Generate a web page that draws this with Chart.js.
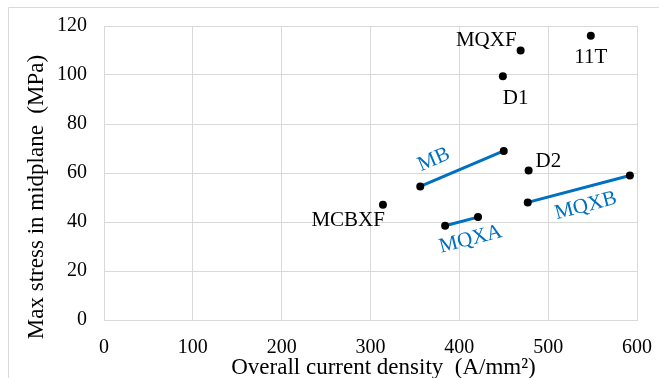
<!DOCTYPE html>
<html>
<head>
<meta charset="utf-8">
<script src="https://cdn.jsdelivr.net/npm/chart.js@4"></script>
<style>
    body { margin: 0; background: #ffffff; }
    canvas { display: block; }
</style>
</head>
<body>
<canvas id="stress_graph" width="659" height="378"></canvas>
<script>
// single magnets (black dots)
const single_names = ["MQXF", "11T", "D1", "D2", "MCBXF"];
const single_x     = [469, 548, 449, 478, 314];
const single_y     = [110, 116, 99.5, 61, 47];

// magnet families drawn as segments
const mb_x   = [356, 450];
const mb_y   = [54.5, 69];
const mqxa_x = [384, 421];
const mqxa_y = [38.5, 42];
const mqxb_x = [477, 592];
const mqxb_y = [48, 59];

const x_ticks = [0, 100, 200, 300, 400, 500, 600];
const y_ticks = [0, 20, 40, 60, 80, 100, 120];

const x_title = "Overall current density  (A/mm\u00B2)";
const y_title = "Max stress in midplane  (MPa)";

const BLUE  = "#0070C0";
const GRID  = "#d9d9d9";
const FONT  = "'Liberation Serif', 'Times New Roman', serif";

// label placement (pixel offsets from the point, alphabetic baseline)
const single_label_style = [
    { align: "right",  dx: -4, dy: -5 },
    { align: "center", dx:  0, dy: 27 },
    { align: "left",   dx:  0, dy: 28 },
    { align: "left",   dx:  7, dy: -4 },
    { align: "right",  dx:  2, dy: 21 }
];
// segment labels: offset from segment midpoint, rotated along segment
const segment_label_style = [
    { text: "MB",   dx: -28, dy: -9 },
    { text: "MQXA", dx:   9, dy: 18 },
    { text: "MQXB", dx:   7, dy: 17 }
];

function to_points(xs, ys){
    let pts = [];
    for (let i = 0; i < xs.length; i++){
        pts.push({ x: xs[i], y: ys[i] });
    }
    return pts;
}

function segment_set(xs, ys){
    return {
        data: to_points(xs, ys),
        showLine: true,
        borderColor: BLUE,
        borderWidth: 3,
        pointRadius: 4,
        pointBackgroundColor: "#000000",
        pointBorderWidth: 0
    };
}

const label_plugin = {
    id: "label_plugin",
    beforeDraw(chart){
        const ctx = chart.ctx;
        ctx.save();
        ctx.strokeStyle = GRID;
        ctx.lineWidth = 1;
        ctx.beginPath();
        ctx.moveTo(8.5, 378);
        ctx.lineTo(8.5, 7.5);
        ctx.lineTo(659, 7.5);
        ctx.stroke();
        ctx.restore();
    },
    afterDatasetsDraw(chart){
        const ctx = chart.ctx;
        const xs  = chart.scales.x;
        const ys  = chart.scales.y;
        const area = chart.chartArea;
        ctx.save();

        // point names
        ctx.fillStyle = "#000000";
        ctx.font = "21px " + FONT;
        ctx.textBaseline = "alphabetic";
        for (let i = 0; i < single_names.length; i++){
            let st = single_label_style[i];
            ctx.textAlign = st.align;
            ctx.fillText(single_names[i],
                xs.getPixelForValue(single_x[i]) + st.dx,
                ys.getPixelForValue(single_y[i]) + st.dy);
        }

        // segment names
        const segs = [[mb_x, mb_y], [mqxa_x, mqxa_y], [mqxb_x, mqxb_y]];
        ctx.fillStyle = BLUE;
        ctx.font = "21px " + FONT;
        ctx.textAlign = "center";
        ctx.textBaseline = "middle";
        for (let i = 0; i < segs.length; i++){
            let px0 = xs.getPixelForValue(segs[i][0][0]);
            let py0 = ys.getPixelForValue(segs[i][1][0]);
            let px1 = xs.getPixelForValue(segs[i][0][1]);
            let py1 = ys.getPixelForValue(segs[i][1][1]);
            let st  = segment_label_style[i];
            ctx.save();
            ctx.translate((px0 + px1) / 2 + st.dx, (py0 + py1) / 2 + st.dy);
            ctx.rotate(Math.atan2(py1 - py0, px1 - px0));
            ctx.fillText(st.text, 0, 0);
            ctx.restore();
        }

        // axis titles
        ctx.fillStyle = "#000000";
        ctx.font = "23px " + FONT;
        ctx.textAlign = "center";
        ctx.textBaseline = "alphabetic";
        ctx.fillText(x_title, (area.left + area.right) / 2 + 13, area.bottom + 54);

        ctx.save();
        ctx.translate(area.left - 61, (area.top + area.bottom) / 2 + 24);
        ctx.rotate(-Math.PI / 2);
        ctx.fillText(y_title, 0, 0);
        ctx.restore();

        ctx.restore();
    }
};

window.addEventListener("load", function (){
    Chart.defaults.font.family = FONT;
    Chart.defaults.color = "#000000";

    const ctx = document.getElementById("stress_graph").getContext("2d");
    const myChart = new Chart(ctx, {
        type: "scatter",
        data: {
            datasets: [
                {
                    data: to_points(single_x, single_y),
                    pointRadius: 4,
                    pointBackgroundColor: "#000000",
                    pointBorderWidth: 0
                },
                segment_set(mb_x, mb_y),
                segment_set(mqxa_x, mqxa_y),
                segment_set(mqxb_x, mqxb_y)
            ]
        },
        options: {
            responsive: false,
            animation: false,
            devicePixelRatio: 1,
            layout: {
                padding: { left: 0, right: 22, top: 26, bottom: 0 }
            },
            scales: {
                x: {
                    type: "linear",
                    min: x_ticks[0],
                    max: x_ticks[x_ticks.length - 1],
                    afterBuildTicks: function(scale){
                        scale.ticks = x_ticks.map(v => ({ value: v }));
                    },
                    afterFit: function(scale){
                        scale.height = 58;
                        scale.paddingLeft = 0;
                        scale.paddingRight = 0;
                    },
                    grid: { color: GRID, drawTicks: false },
                    border: { color: GRID },
                    ticks: { font: { size: 20 }, padding: 16, maxRotation: 0 }
                },
                y: {
                    type: "linear",
                    min: y_ticks[0],
                    max: y_ticks[y_ticks.length - 1],
                    afterBuildTicks: function(scale){
                        scale.ticks = y_ticks.map(v => ({ value: v }));
                    },
                    afterFit: function(scale){
                        scale.width = 104;
                        scale.paddingTop = 0;
                        scale.paddingBottom = 0;
                    },
                    grid: { color: GRID, drawTicks: false },
                    border: { color: GRID },
                    ticks: { font: { size: 20 }, padding: 17 }
                }
            },
            plugins: {
                legend: { display: false },
                tooltip: { enabled: false }
            }
        },
        plugins: [ label_plugin ]
    });
});
</script>
</body>
</html>
